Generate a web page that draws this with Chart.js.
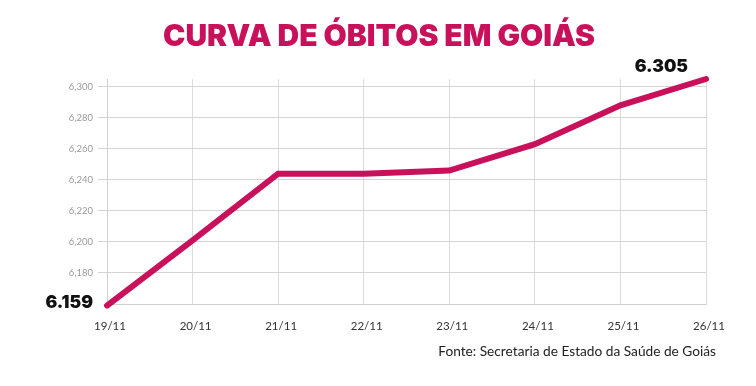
<!DOCTYPE html>
<html>
<head>
<meta charset="utf-8">
<script src="https://cdn.jsdelivr.net/npm/chart.js@4/dist/chart.umd.min.js"></script>
<style>
  html, body { margin: 0; padding: 0; background: #ffffff; }
  #wrap { width: 756px; height: 386px; position: relative; }
</style>
</head>
<body>
<div id="wrap"><canvas id="c" width="756" height="386"></canvas></div>
<script>
const titleText = 'CURVA DE ÓBITOS EM GOIÁS';
const sourceText = 'Fonte: Secretaria de Estado da Saúde de Goiás';
const categories = ['19/11', '20/11', '21/11', '22/11', '23/11', '24/11', '25/11', '26/11'];
const deaths = [6159, 6201, 6244, 6244, 6246, 6263, 6288, 6305];
const yTicks = [6180, 6200, 6220, 6240, 6260, 6280, 6300];
const labeledIndexes = [0, 7];

const PINK = '#c8115a';
const HEAVY = 'Inter, Lato, "Open Sans", sans-serif';

const extraText = {
  id: 'extraText',
  afterDatasetsDraw(chart) {
    const ctx = chart.ctx;
    const meta = chart.getDatasetMeta(0);
    ctx.save();
    ctx.textBaseline = 'middle';
    ctx.fillStyle = PINK;
    ctx.font = '900 30px ' + HEAVY;
    ctx.textAlign = 'center';
    ctx.fillText(titleText, 379, 37);

    ctx.fillStyle = '#111111';
    ctx.font = '900 17.5px ' + HEAVY;
    labeledIndexes.forEach(i => {
      const p = meta.data[i];
      const txt = deaths[i].toLocaleString('pt-BR');
      ctx.textAlign = 'right';
      if (i === 0) {
        ctx.fillText(txt, p.x - 14, p.y - 3);
      } else {
        ctx.fillText(txt, p.x - 18, p.y - 12);
      }
    });
    ctx.fillStyle = '#222222';
    ctx.font = '400 13.7px Lato, "Open Sans", sans-serif';
    ctx.textAlign = 'right';
    ctx.fillText(sourceText, 716, 352);
    ctx.restore();
  }
};

new Chart(document.getElementById('c'), {
  type: 'line',
  data: {
    labels: categories,
    datasets: [{
      data: deaths,
      borderColor: PINK,
      borderWidth: 6,
      borderCapStyle: 'round',
      borderJoinStyle: 'miter',
      pointRadius: 0,
      tension: 0,
      fill: false,
      clip: false
    }]
  },
  options: {
    responsive: false,
    animation: false,
    devicePixelRatio: 1,
    layout: { padding: { top: 79, left: 0, right: 50, bottom: 0 } },
    plugins: {
      legend: { display: false },
      tooltip: { enabled: false },
      title: { display: false }
    },
    scales: {
      x: {
        offset: false,
        afterFit(scale) { scale.height = 82; },
        border: { display: true, color: '#d0d0d0', width: 1 },
        grid: { color: '#dcdcdc', lineWidth: 1, drawTicks: false },
        ticks: {
          color: '#333333',
          font: { family: 'Lato, "Open Sans", sans-serif', size: 11.5 },
          padding: 15,
          labelOffset: 3,
          maxRotation: 0,
          autoSkip: false
        }
      },
      y: {
        min: 6160,
        max: 6305,
        afterFit(scale) { scale.width = 107; },
        afterBuildTicks(scale) {
          scale.ticks = [6160].concat(yTicks).concat([6305]).map(v => ({ value: v }));
        },
        border: { display: true, color: '#d0d0d0', width: 1 },
        grid: {
          color(ctx) {
            const v = ctx.tick && ctx.tick.value;
            return yTicks.includes(v) ? '#d4d4d4' : 'rgba(0,0,0,0)';
          },
          lineWidth: 1,
          drawTicks: true,
          tickLength: 9
        },
        ticks: {
          color: '#9a9a9a',
          font: { family: 'Lato, "Open Sans", sans-serif', size: 9.5 },
          padding: 5,
          callback(v) { return yTicks.includes(v) ? v.toLocaleString('en-US') : ''; }
        }
      }
    }
  },
  plugins: [extraText]
});
</script>
</body>
</html>
